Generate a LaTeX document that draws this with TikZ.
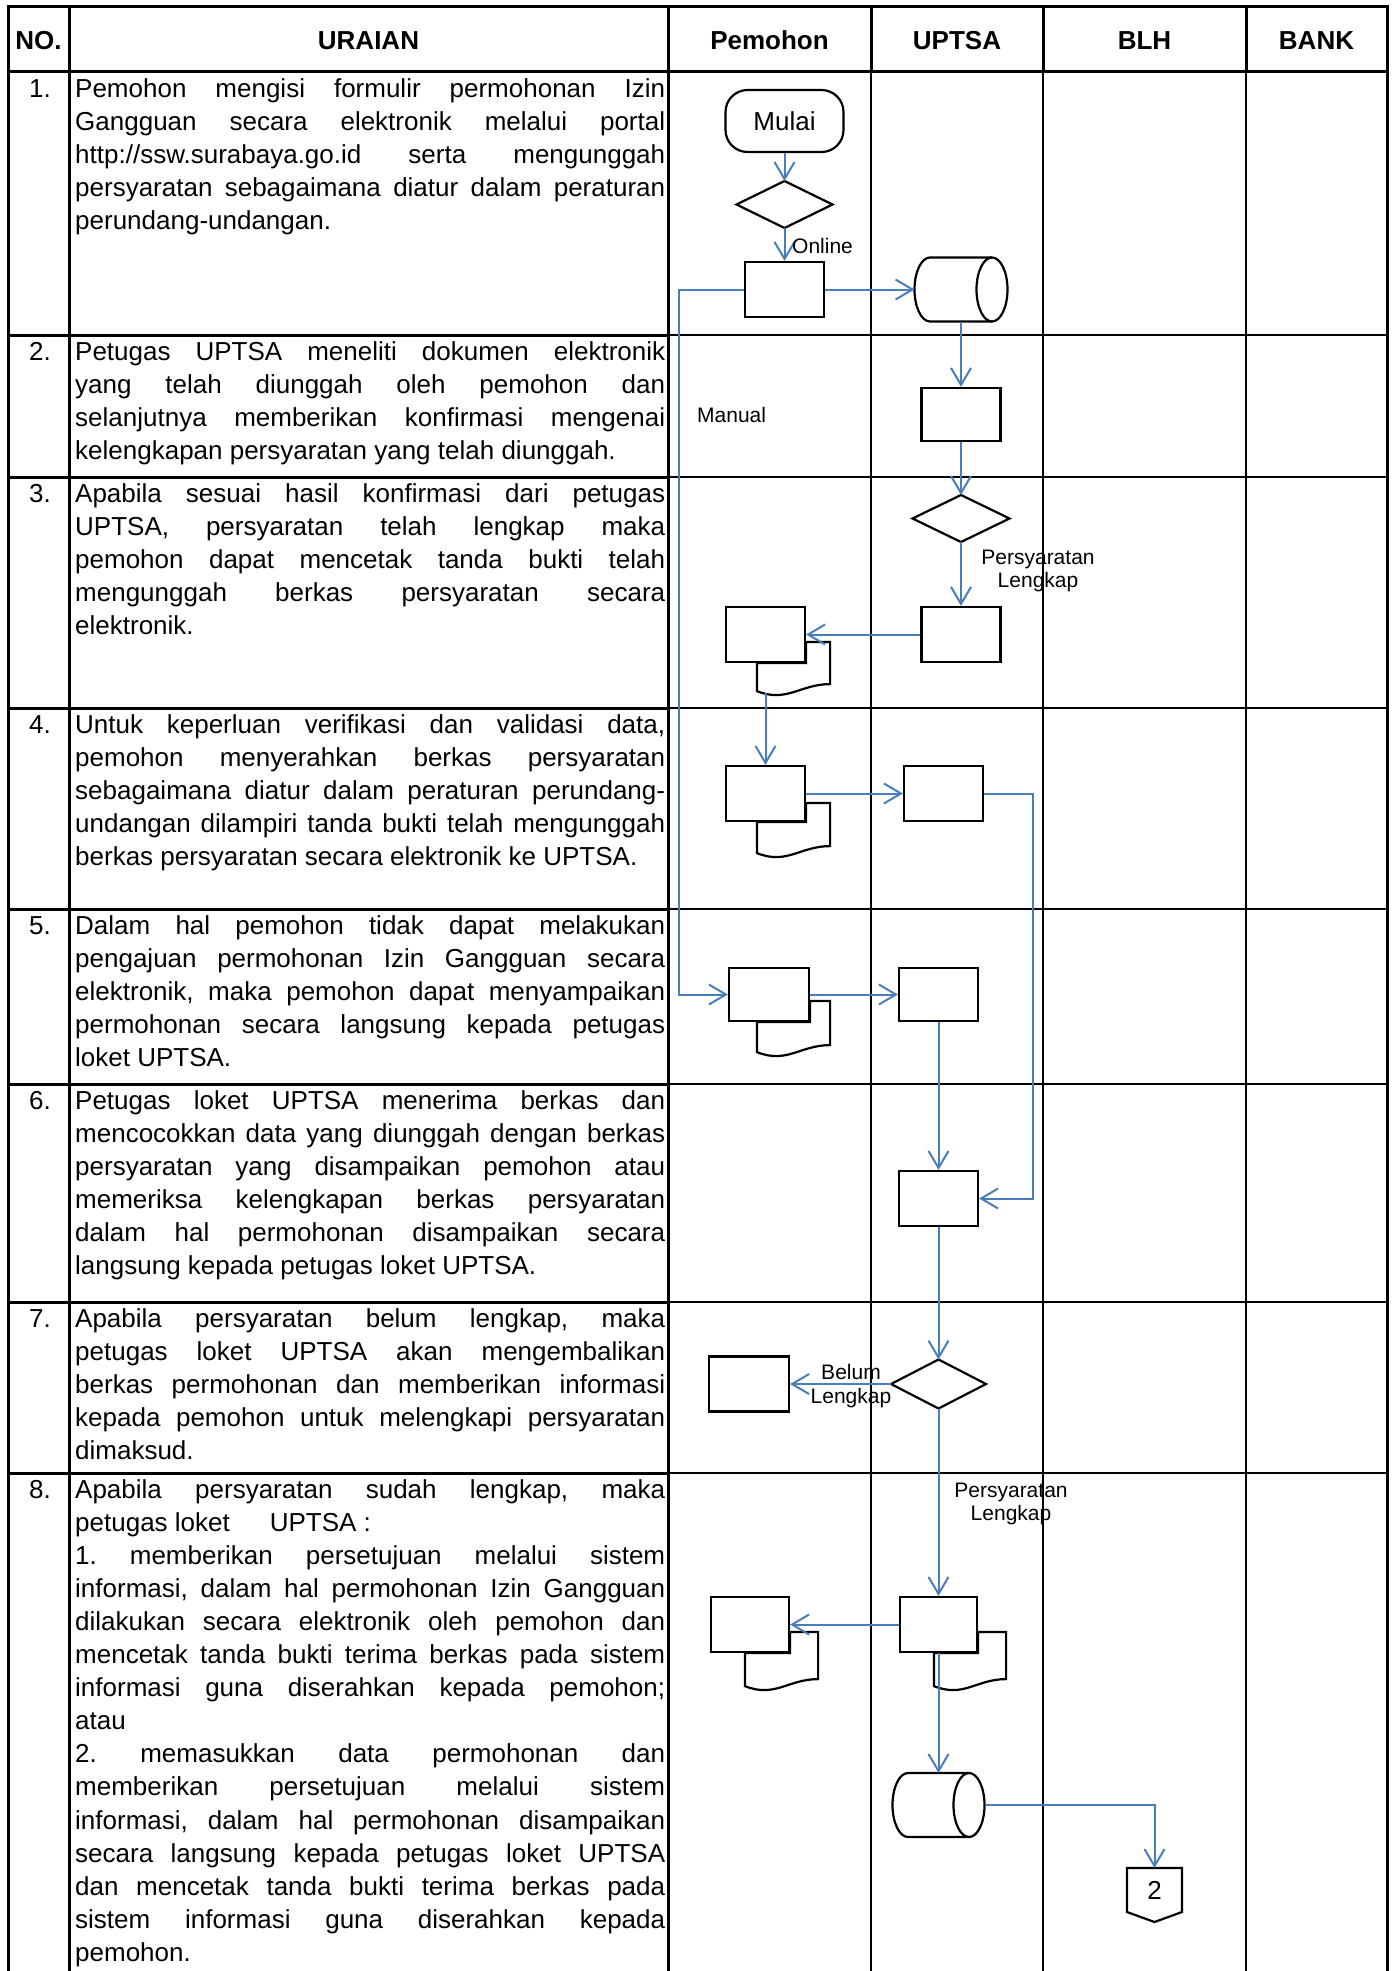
\documentclass[tikz,border=0pt]{standalone}
\usepackage{fontspec}
\setmainfont{Liberation Sans}
\usetikzlibrary{arrows.meta,calc}
\definecolor{flowblue}{RGB}{74,126,187}
\pgfdeclarelayer{docback}
\pgfsetlayers{docback,main}
\newcommand\descfont{\fontsize{26}{33.1}\selectfont\frenchspacing\tolerance=10000\hbadness=10000\hyphenpenalty=10000\parskip=0pt\relax}
% back sheet of a document symbol: #1 node, #2 left offset, #3 right offset, #4 top offset, #5 bottom offset
\newcommand\docback[5]{%
  \begin{pgfonlayer}{docback}
  \path[shapeline] ($(#1.south west)+(#2,0)$) -- ($(#1.south west)+(#2,#5)$)
    .. controls +(30,12) and +(-30,0) .. ($(#1.south east)+(#3,#5-7)$)
    -- ($(#1.north east)+(#3,#4)$) -- ($(#1.north east)+(0,#4)$) -- (#1.south east) -- cycle;
  \end{pgfonlayer}}
\newcommand\cyldraw[1]{%
  \draw[shapeline] ($(#1.north west)+(15.5,0)$) -- ($(#1.north east)+(-15.5,0)$)
     arc[start angle=-90,end angle=90,x radius=15.5,y radius=32]
     -- ($(#1.south west)+(15.5,0)$)
     arc[start angle=90,end angle=270,x radius=15.5,y radius=32] -- cycle;
  \draw[shapeline,fill=none] ($(#1.north east)+(-15.5,0)$) arc[start angle=-90,end angle=-270,x radius=15.5,y radius=32];}
\newcommand\diamdraw[1]{%
  \draw[shapeline] (#1.north) -- (#1.east) -- (#1.south) -- (#1.west) -- cycle;}
\begin{document}
\begin{tikzpicture}[x=1pt,y=-1pt,
  thickrule/.style={line width=3pt},
  thinrule/.style={line width=1.3pt},
  shapeline/.style={draw=black, line width=2.2pt, fill=white, line join=miter},
  procbox/.style={shapeline, rectangle, minimum width=79pt, minimum height=55pt, inner sep=0pt},
  ghost/.style={rectangle, inner sep=0pt, outer sep=0pt},
  flow/.style={draw=flowblue, line width=2pt, -{Straight Barb[length=17pt,width=20pt,line width=2pt]}},
  lbl/.style={font=\fontsize{21}{23.5}\selectfont, inner sep=0pt},
  hdr/.style={font=\fontsize{26}{30}\selectfont\bfseries, anchor=base, inner sep=0pt},
  desc/.style={anchor=base west, text width=590pt, inner sep=0pt, align=justify, font=\descfont},
  num/.style={anchor=base east, inner sep=0pt, font=\descfont},
]
\useasboundingbox (0,0) rectangle (1393,1971);

% ---------- table grid ----------
\foreach \yy in {335,477,708,909,1084,1302,1473} \draw[thinrule] (668,\yy) -- (1387,\yy);
\foreach \xx in {871,1043,1246} \draw[thinrule] (\xx,71.5) -- (\xx,1971);
\foreach \yy in {335,477,708,909,1084,1302,1473} \draw[thickrule] (8,\yy) -- (668,\yy);
\foreach \xx in {871,1043,1246} \draw[thickrule] (\xx,6) -- (\xx,71.5);
\draw[thickrule, line join=miter] (8,1971) -- (8,6) -- (1387,6) -- (1387,1971);
\draw[thickrule] (8,71.5) -- (1387,71.5);
\draw[thickrule] (69,6) -- (69,1971);
\draw[thickrule] (668,6) -- (668,1971);

% ---------- headers ----------
\node[hdr] (hno) at (38.5,49) {NO.};
\node[hdr] (hur) at (368.5,49) {URAIAN};
\node[hdr] (hpm) at (769.5,49) {Pemohon};
\node[hdr] (hup) at (957,49) {UPTSA};
\node[hdr] (hbl) at (1144.5,49) {BLH};
\node[hdr] (hbk) at (1316.5,49) {BANK};

% ---------- numbers ----------
\node[num] (n1) at (51,97) {1.};
\node[num] (n2) at (51,360) {2.};
\node[num] (n3) at (51,502) {3.};
\node[num] (n4) at (51,733) {4.};
\node[num] (n5) at (51,934) {5.};
\node[num] (n6) at (51,1109) {6.};
\node[num] (n7) at (51,1327) {7.};
\node[num] (n8) at (51,1498) {8.};

% ---------- descriptions ----------
\node[desc] (t1) at (75,97) {Pemohon mengisi formulir permohonan Izin\linebreak Gangguan secara elektronik melalui portal\linebreak http://ssw.surabaya.go.id serta mengunggah\linebreak persyaratan sebagaimana diatur dalam peraturan\linebreak perundang-undangan.};
\node[desc] (t2) at (75,360) {Petugas UPTSA meneliti dokumen elektronik\linebreak yang telah diunggah oleh pemohon dan\linebreak selanjutnya memberikan konfirmasi mengenai\linebreak kelengkapan persyaratan yang telah diunggah.};
\node[desc] (t3) at (75,502) {Apabila sesuai hasil konfirmasi dari petugas\linebreak UPTSA, persyaratan telah lengkap maka\linebreak pemohon dapat mencetak tanda bukti telah\linebreak mengunggah berkas persyaratan secara\linebreak elektronik.};
\node[desc] (t4) at (75,733) {Untuk keperluan verifikasi dan validasi data,\linebreak pemohon menyerahkan berkas persyaratan\linebreak sebagaimana diatur dalam peraturan perundang-\linebreak undangan dilampiri tanda bukti telah mengunggah\linebreak berkas persyaratan secara elektronik ke UPTSA.};
\node[desc] (t5) at (75,934) {Dalam hal pemohon tidak dapat melakukan\linebreak pengajuan permohonan Izin Gangguan secara\linebreak elektronik, maka pemohon dapat menyampaikan\linebreak permohonan secara langsung kepada petugas\linebreak loket UPTSA.};
\node[desc] (t6) at (75,1109) {Petugas loket UPTSA menerima berkas dan\linebreak mencocokkan data yang diunggah dengan berkas\linebreak persyaratan yang disampaikan pemohon atau\linebreak memeriksa kelengkapan berkas persyaratan\linebreak dalam hal permohonan disampaikan secara\linebreak langsung kepada petugas loket UPTSA.};
\node[desc] (t7) at (75,1327) {Apabila persyaratan belum lengkap, maka\linebreak petugas loket UPTSA akan mengembalikan\linebreak berkas permohonan dan memberikan informasi\linebreak kepada pemohon untuk melengkapi persyaratan\linebreak dimaksud.};
\node[desc] (t8) at (75,1498) {Apabila persyaratan sudah lengkap, maka\linebreak petugas loket\hspace{40pt}UPTSA :\par 1. memberikan persetujuan melalui sistem\linebreak informasi, dalam hal permohonan Izin Gangguan\linebreak dilakukan secara elektronik oleh pemohon dan\linebreak mencetak tanda bukti terima berkas pada sistem\linebreak informasi guna diserahkan kepada pemohon;\linebreak atau\par 2. memasukkan data permohonan dan\linebreak memberikan persetujuan melalui sistem\linebreak informasi, dalam hal permohonan disampaikan\linebreak secara langsung kepada petugas loket UPTSA\linebreak dan mencetak tanda bukti terima berkas pada\linebreak sistem informasi guna diserahkan kepada\linebreak pemohon.};

% ---------- flowchart shapes ----------
\node[shapeline, rounded corners=22pt, minimum width=118pt, minimum height=62pt, inner sep=0pt, font=\fontsize{26}{30}\selectfont] (mulai) at (784.5,121) {Mulai};
\node[ghost, minimum width=96pt, minimum height=47pt] (d1) at (784.5,204.5) {};
\diamdraw{d1}
\node[procbox] (r1) at (784.5,289.5) {};
\node[ghost, minimum width=93pt, minimum height=64pt] (cyl1) at (961,289.5) {};
\cyldraw{cyl1}
\node[procbox, minimum height=53pt] (r2) at (961,414.5) {};
\node[ghost, minimum width=97pt, minimum height=47pt] (d2) at (961,518.5) {};
\diamdraw{d2}
\node[procbox] (r3) at (961,634.5) {};
\node[procbox] (doc1) at (765.5,634.5) {};
\docback{doc1}{32}{24}{36}{28}
\node[procbox] (doc2) at (765.5,793.5) {};
\docback{doc2}{32}{24}{38}{31}
\node[procbox] (r4) at (943.5,793.5) {};
\node[procbox, minimum width=80pt, minimum height=53pt] (doc3) at (769,994.5) {};
\docback{doc3}{29}{20}{34}{30}
\node[procbox, minimum height=53pt] (r5) at (938.5,994.5) {};
\node[procbox] (r6) at (938.5,1198.5) {};
\node[ghost, minimum width=95pt, minimum height=49pt] (d3) at (938.5,1384) {};
\diamdraw{d3}
\node[procbox, minimum width=80pt] (r7) at (749,1384) {};
\node[procbox, minimum width=77pt] (doc4) at (938.5,1624.5) {};
\docback{doc4}{35}{28}{36}{33}
\node[procbox, minimum width=78pt] (doc5) at (750,1624.5) {};
\docback{doc5}{35}{28}{36}{33}
\node[ghost, minimum width=92pt, minimum height=64pt] (cyl2) at (938.5,1805) {};
\cyldraw{cyl2}
\node[ghost, minimum width=55pt, minimum height=44pt, font=\fontsize{26}{30}\selectfont] (off) at (1154.5,1890) {2};
\draw[shapeline, fill=none] (off.north west) -- (off.north east) -- (off.south east) -- ($(off.south)+(0,10)$) -- (off.south west) -- cycle;

% ---------- connectors ----------
\coordinate (doc1b) at ($(doc1.south)+(0,30)$);
\draw[flow] (mulai.south) -- (d1.north);
\draw[flow] (d1.south) -- (r1.north);
\draw[flow] (r1.east) -- (cyl1.west);
\draw[flow] (cyl1.south) -- (r2.north);
\draw[flow] (r2.south) -- (d2.north);
\draw[flow] (d2.south) -- (r3.north);
\draw[flow] (r3.west) -- (doc1.east);
\draw[flow] (doc1b) -- (doc2.north);
\draw[flow] (doc2.east) -- (r4.west);
\draw[flow] (r4.east) -- ++(49,0) |- (r6.east);
\draw[flow] (r1.west) -- ++(-65,0) |- (doc3.west);
\draw[flow] (doc3.east) -- (r5.west);
\draw[flow] (r5.south) -- (r6.north);
\draw[flow] (r6.south) -- (d3.north);
\draw[flow] (d3.west) -- (r7.east);
\draw[flow] (d3.south) -- (doc4.north);
\draw[flow] (doc4.west) -- (doc5.east);
\draw[flow] (doc4.south) -- (cyl2.north);
\draw[flow] (cyl2.east) -| (off.north);

% ---------- labels ----------
\node[lbl, anchor=west] (lonline) at (792,246) {Online};
\node[lbl, anchor=west] (lmanual) at (697,415) {Manual};
\node[lbl, align=center] (lpl1) at (1038,571) {Persyaratan\\Lengkap};
\node[lbl, align=center] (lbelum) at (851,1386) {Belum\\Lengkap};
\node[lbl, align=center] (lpl2) at (1011,1504) {Persyaratan\\Lengkap};
\end{tikzpicture}
\end{document}
